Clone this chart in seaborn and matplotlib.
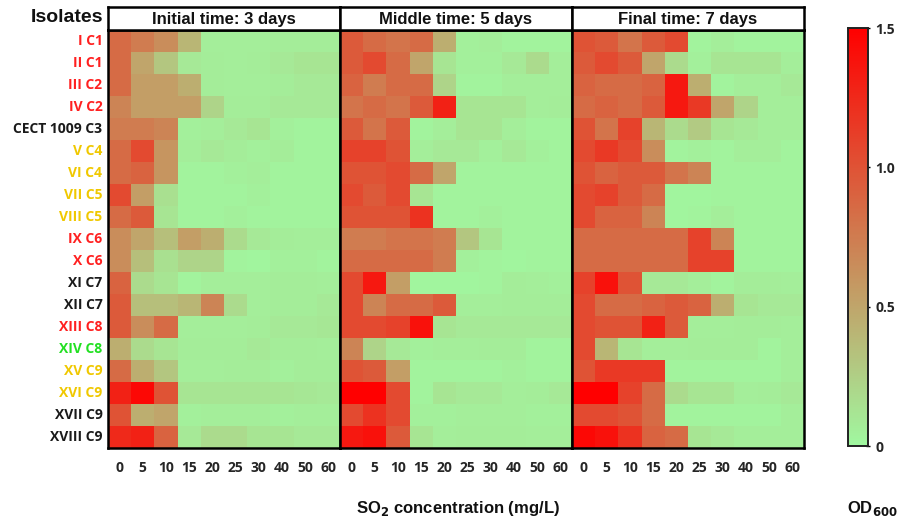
import numpy as np
import pandas as pd
import matplotlib
matplotlib.use("Agg")
import matplotlib.pyplot as plt
import seaborn as sns
from matplotlib.colors import LinearSegmentedColormap

isolates = ["I C1", "II C1", "III C2", "IV C2", "CECT 1009 C3", "V C4", "VI C4",
            "VII C5", "VIII C5", "IX C6", "X C6", "XI C7", "XII C7", "XIII C8",
            "XIV C8", "XV C9", "XVI C9", "XVII C9", "XVIII C9"]
label_colors = ["#ff2020", "#ff2020", "#ff2020", "#ff2020", "#1a1a1a", "#f0c800", "#f0c800",
                "#f0c800", "#f0c800", "#ff2020", "#ff2020", "#1a1a1a", "#1a1a1a", "#ff2020",
                "#22e022", "#f0c800", "#f0c800", "#1a1a1a", "#1a1a1a"]
concentrations = ["0", "5", "10", "15", "20", "25", "30", "40", "50", "60"]
panel_titles = ["Initial time: 3 days", "Middle time: 5 days", "Final time: 7 days"]

initial_3d = [
    [0.85, 0.75, 0.65, 0.40, 0.06, 0.06, 0.06, 0.07, 0.07, 0.07],
    [0.85, 0.50, 0.30, 0.09, 0.07, 0.06, 0.07, 0.09, 0.12, 0.12],
    [0.85, 0.55, 0.55, 0.45, 0.07, 0.06, 0.06, 0.07, 0.09, 0.09],
    [0.70, 0.55, 0.55, 0.55, 0.22, 0.07, 0.07, 0.09, 0.09, 0.09],
    [0.75, 0.75, 0.70, 0.05, 0.06, 0.09, 0.12, 0.05, 0.03, 0.03],
    [0.85, 1.05, 0.60, 0.06, 0.09, 0.07, 0.05, 0.07, 0.03, 0.03],
    [0.85, 0.90, 0.60, 0.03, 0.03, 0.05, 0.06, 0.03, 0.03, 0.03],
    [1.05, 0.55, 0.15, 0.03, 0.03, 0.03, 0.05, 0.03, 0.03, 0.03],
    [0.85, 0.95, 0.12, 0.03, 0.03, 0.05, 0.03, 0.03, 0.03, 0.03],
    [0.65, 0.50, 0.35, 0.55, 0.45, 0.18, 0.09, 0.07, 0.06, 0.06],
    [0.65, 0.35, 0.15, 0.22, 0.22, 0.03, 0.02, 0.05, 0.05, 0.03],
    [0.90, 0.18, 0.12, 0.03, 0.06, 0.06, 0.06, 0.07, 0.07, 0.06],
    [0.95, 0.35, 0.35, 0.40, 0.70, 0.18, 0.06, 0.07, 0.07, 0.09],
    [0.95, 0.65, 0.85, 0.06, 0.06, 0.06, 0.07, 0.09, 0.09, 0.10],
    [0.45, 0.18, 0.12, 0.07, 0.07, 0.07, 0.09, 0.07, 0.07, 0.06],
    [0.85, 0.45, 0.30, 0.06, 0.06, 0.07, 0.07, 0.05, 0.07, 0.07],
    [1.30, 1.45, 1.00, 0.12, 0.12, 0.12, 0.12, 0.12, 0.10, 0.09],
    [1.00, 0.45, 0.50, 0.05, 0.06, 0.06, 0.06, 0.05, 0.06, 0.06],
    [1.25, 1.30, 0.90, 0.09, 0.18, 0.18, 0.12, 0.12, 0.09, 0.09],
]
middle_5d = [
    [0.95, 0.85, 0.80, 0.85, 0.45, 0.05, 0.06, 0.03, 0.03, 0.03],
    [0.95, 1.05, 0.85, 0.50, 0.12, 0.05, 0.05, 0.09, 0.18, 0.06],
    [0.90, 0.75, 0.85, 0.85, 0.22, 0.03, 0.03, 0.06, 0.06, 0.06],
    [0.80, 0.85, 0.80, 0.95, 1.30, 0.12, 0.12, 0.12, 0.06, 0.07],
    [0.95, 0.80, 0.95, 0.03, 0.06, 0.12, 0.12, 0.06, 0.03, 0.03],
    [1.10, 1.10, 1.00, 0.06, 0.09, 0.09, 0.05, 0.09, 0.05, 0.03],
    [1.00, 1.00, 1.05, 0.85, 0.50, 0.03, 0.03, 0.03, 0.03, 0.03],
    [1.05, 0.95, 1.05, 0.12, 0.03, 0.03, 0.03, 0.03, 0.03, 0.03],
    [1.00, 1.00, 1.00, 1.20, 0.03, 0.03, 0.05, 0.03, 0.03, 0.03],
    [0.75, 0.75, 0.80, 0.80, 0.75, 0.30, 0.12, 0.03, 0.03, 0.03],
    [0.85, 0.85, 0.85, 0.85, 0.75, 0.05, 0.03, 0.02, 0.03, 0.03],
    [1.05, 1.35, 0.55, 0.02, 0.02, 0.02, 0.03, 0.07, 0.06, 0.05],
    [1.05, 0.70, 0.85, 0.85, 0.95, 0.06, 0.06, 0.07, 0.07, 0.07],
    [1.05, 1.05, 1.10, 1.40, 0.12, 0.09, 0.09, 0.09, 0.09, 0.09],
    [0.70, 0.22, 0.09, 0.05, 0.06, 0.06, 0.07, 0.07, 0.03, 0.03],
    [1.00, 0.95, 0.55, 0.03, 0.03, 0.03, 0.03, 0.05, 0.03, 0.03],
    [1.50, 1.50, 1.05, 0.03, 0.12, 0.09, 0.09, 0.06, 0.07, 0.09],
    [1.05, 1.20, 1.05, 0.05, 0.05, 0.06, 0.06, 0.06, 0.05, 0.05],
    [1.35, 1.40, 0.95, 0.12, 0.06, 0.07, 0.07, 0.07, 0.06, 0.06],
]
final_7d = [
    [1.00, 0.95, 0.80, 0.95, 1.05, 0.03, 0.06, 0.03, 0.03, 0.03],
    [0.95, 1.05, 0.95, 0.50, 0.18, 0.05, 0.12, 0.12, 0.12, 0.06],
    [0.90, 0.85, 0.85, 0.90, 1.35, 0.45, 0.03, 0.06, 0.06, 0.09],
    [0.85, 0.90, 0.85, 0.95, 1.35, 1.15, 0.50, 0.22, 0.06, 0.06],
    [1.00, 0.80, 1.10, 0.40, 0.18, 0.28, 0.12, 0.09, 0.06, 0.06],
    [1.05, 1.15, 1.05, 0.65, 0.03, 0.05, 0.03, 0.06, 0.06, 0.03],
    [1.00, 0.90, 0.95, 0.95, 0.80, 0.70, 0.03, 0.03, 0.03, 0.03],
    [1.05, 1.10, 0.95, 0.85, 0.02, 0.02, 0.03, 0.03, 0.03, 0.03],
    [1.05, 0.90, 0.90, 0.70, 0.02, 0.03, 0.06, 0.03, 0.03, 0.03],
    [0.85, 0.85, 0.85, 0.85, 0.85, 1.10, 0.70, 0.03, 0.03, 0.03],
    [0.85, 0.85, 0.85, 0.85, 0.85, 1.10, 1.10, 0.03, 0.03, 0.03],
    [1.10, 1.40, 1.00, 0.09, 0.09, 0.06, 0.03, 0.07, 0.07, 0.06],
    [1.05, 0.85, 0.85, 0.90, 0.95, 0.90, 0.45, 0.12, 0.09, 0.09],
    [1.05, 1.00, 1.00, 1.30, 0.95, 0.06, 0.06, 0.07, 0.07, 0.06],
    [1.05, 0.40, 0.12, 0.06, 0.06, 0.07, 0.07, 0.07, 0.03, 0.06],
    [1.00, 1.15, 1.15, 1.15, 0.03, 0.03, 0.03, 0.03, 0.03, 0.06],
    [1.50, 1.50, 1.10, 0.85, 0.18, 0.12, 0.12, 0.06, 0.07, 0.09],
    [1.05, 1.05, 1.00, 0.85, 0.03, 0.03, 0.03, 0.03, 0.03, 0.06],
    [1.45, 1.40, 1.20, 0.90, 0.85, 0.12, 0.09, 0.06, 0.06, 0.06],
]

sns.set_theme(style="white")
plt.rcParams['font.family'] = ['Liberation Sans', 'DejaVu Sans']

cmap = LinearSegmentedColormap.from_list("gr", ["#a0f8a0", "#ff0000"])

W, H = 899, 525
fig = plt.figure(figsize=(W / 100, H / 100), dpi=100)

def fx(px):
    return px / W

def fy(py):
    return 1 - py / H

left_px, right_px, top_px, bot_px = 108, 804, 30, 448
pw = (right_px - left_px) / 3
cax = fig.add_axes([fx(848), fy(446), fx(868) - fx(848), fy(28) - fy(446)])

panels = [initial_3d, middle_5d, final_7d]
for i, (data, title) in enumerate(zip(panels, panel_titles)):
    x0 = left_px + i * pw
    ax = fig.add_axes([fx(x0), fy(bot_px), fx(pw), fy(top_px) - fy(bot_px)])
    df = pd.DataFrame(data, index=isolates, columns=concentrations)
    sns.heatmap(df, ax=ax, cmap=cmap, vmin=0, vmax=1.5, cbar=(i == 0),
                cbar_ax=cax if i == 0 else None, linewidths=0)
    ax.tick_params(axis="both", length=0)
    ax.tick_params(axis="x", pad=9)
    ax.set_xticklabels(concentrations, rotation=0, fontsize=10, fontweight="bold",
                       family=["Open Sans", "DejaVu Sans"])
    ax.set_xlabel("")
    ax.set_ylabel("")
    if i == 0:
        ax.set_yticklabels(isolates, rotation=0, fontsize=10, fontweight="bold",
                           family=["Open Sans", "DejaVu Sans"])
        for lbl, c in zip(ax.get_yticklabels(), label_colors):
            lbl.set_color(c)
        ax.tick_params(axis="y", pad=4)
    else:
        ax.set_yticks([])
    for s in ax.spines.values():
        s.set_visible(True)
        s.set_color("black")
        s.set_linewidth(1.8)
    hax = fig.add_axes([fx(x0), fy(top_px), fx(pw), fy(7) - fy(top_px)])
    hax.set_xticks([])
    hax.set_yticks([])
    hax.set_facecolor("white")
    for s in hax.spines.values():
        s.set_color("black")
        s.set_linewidth(1.8)
    hax.text(0.5, 0.45, title, ha="center", va="center", fontsize=12,
             fontweight="bold", transform=hax.transAxes, color="#111111")

fig.text(fx(103), fy(18), "Isolates", ha="right", va="center", fontsize=14,
         fontweight="bold", color="#111111")

cax.set_yticks([0, 0.5, 1.0, 1.5])
cax.set_yticklabels(["0", "0.5", "1.0", "1.5"], fontsize=10, fontweight="bold",
                    family=["Open Sans", "DejaVu Sans"])
cax.tick_params(axis="y", length=3, width=1, direction="inout", color="black", pad=4)
for s in cax.spines.values():
    s.set_visible(True)
    s.set_color("#222222")
    s.set_linewidth(1.2)

fig.text(fx(458), fy(508), "SO$_\\mathbf{2}$ concentration (mg/L)", ha="center", va="center",
         fontsize=12, fontweight="bold", color="#111111")
fig.text(fx(872), fy(508), "OD$_\\mathbf{600}$", ha="center", va="center",
         fontsize=12, fontweight="bold", color="#111111")

fig.savefig("out.png", dpi=100)
